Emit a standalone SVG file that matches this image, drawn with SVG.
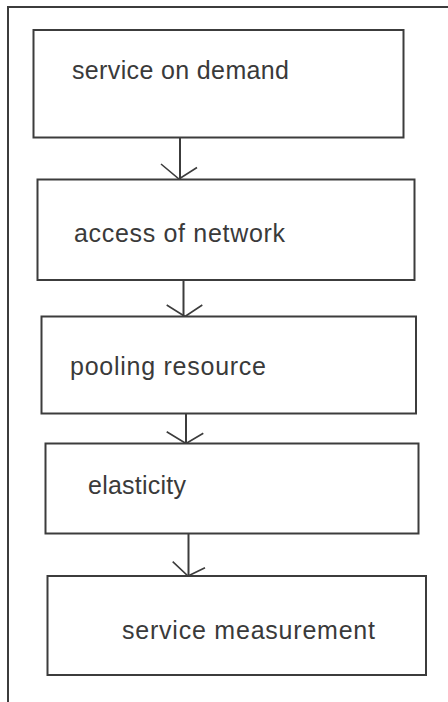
<svg xmlns="http://www.w3.org/2000/svg" width="448" height="702" viewBox="0 0 448 702">
<style>
  .frame { fill: none; stroke: #3c3c3c; stroke-width: 2; }
  .box { fill: #ffffff; stroke: #3c3c3c; stroke-width: 2; }
  .lbl { font-family: "Liberation Sans", Arial, sans-serif; font-size: 25px; fill: #3a3a3a; }
  .conn { fill: none; stroke: #3c3c3c; stroke-width: 2; stroke-linejoin: miter; }
  .head { fill: none; stroke: #3c3c3c; stroke-width: 1.6; }
</style>
<rect width="448" height="702" fill="#ffffff"/>
<g id="frame">
  <path class="frame" d="M448,7 H8 V702"/>
</g>
<g id="connectors">
  <path class="conn" d="M180,137.5 V179"/>
  <path class="head" d="M161,164 L179,179 L197,167.5"/>
  <path class="conn" d="M183.5,280 V316.5"/>
  <path class="head" d="M166.7,305 L185,316.5 L202.3,305"/>
  <path class="conn" d="M186,413.3 V443.5"/>
  <path class="head" d="M166.7,431.7 L186,443.5 L203.3,433.3"/>
  <path class="conn" d="M188.5,533.3 V576"/>
  <path class="head" d="M172.7,561.7 L188,576 L205,567.7"/>
</g>
<g id="node1">
  <rect class="box" x="33.5" y="30" width="370" height="107.5"/>
  <text class="lbl" x="72" y="79" textLength="217" lengthAdjust="spacing">service on demand</text>
</g>
<g id="node2">
  <rect class="box" x="37.5" y="179.5" width="377" height="100.5"/>
  <text class="lbl" x="74" y="242" textLength="211" lengthAdjust="spacing">access of network</text>
</g>
<g id="node3">
  <rect class="box" x="41.5" y="316.5" width="374.5" height="97"/>
  <text class="lbl" x="70" y="375" textLength="196" lengthAdjust="spacing">pooling resource</text>
</g>
<g id="node4">
  <rect class="box" x="45.5" y="443.5" width="373" height="90"/>
  <text class="lbl" x="88" y="494" textLength="98" lengthAdjust="spacing">elasticity</text>
</g>
<g id="node5">
  <rect class="box" x="47.5" y="576" width="378.5" height="99"/>
  <text class="lbl" x="122" y="638.5" textLength="253" lengthAdjust="spacing">service measurement</text>
</g>
</svg>
